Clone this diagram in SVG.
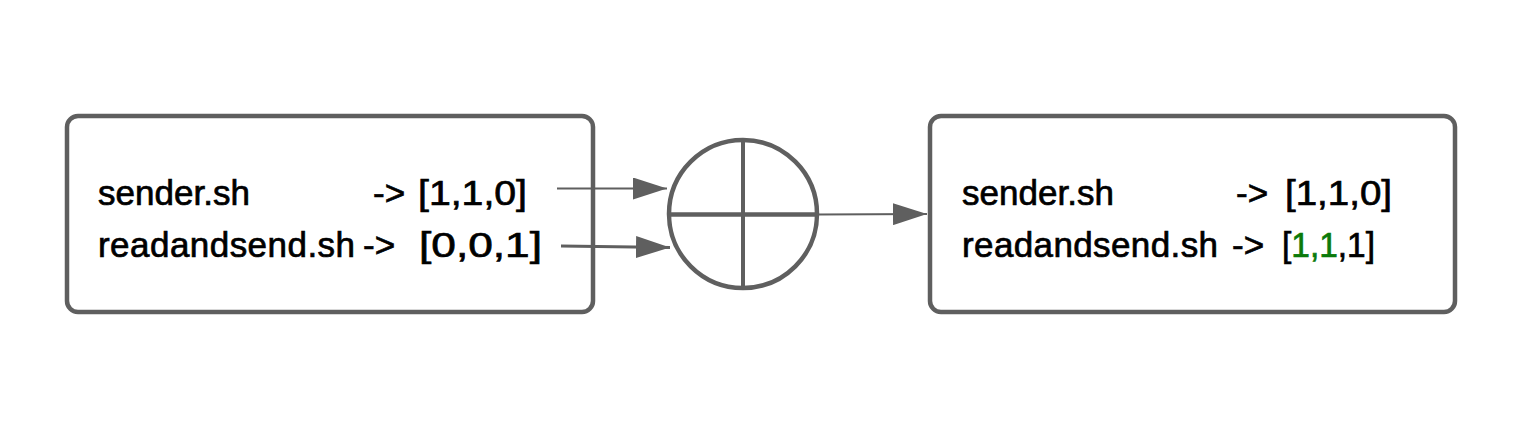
<svg xmlns="http://www.w3.org/2000/svg" width="1523" height="422" viewBox="0 0 1523 422">
<style>
.box{fill:#fff;stroke:#5f5f5f;stroke-width:4.5}
.t{font-family:"Liberation Sans",Arial,sans-serif;font-size:35px;fill:#000;stroke:#000;stroke-width:0.7}
.g{fill:#0a7a0a;stroke:#0a7a0a}
.ln{stroke:#5f5f5f;fill:none}
</style>
<defs>
<marker id="ah" viewBox="0 0 34 22" refX="34" refY="11" markerWidth="34" markerHeight="22" markerUnits="userSpaceOnUse" orient="auto">
<path d="M0,0 L34,11 L0,22 Z" fill="#5f5f5f"/>
</marker>
</defs>
<rect width="1523" height="422" fill="#fff"/>
<g id="left">
<rect class="box" x="67" y="116" width="526" height="196" rx="11"/>
<text class="t" x="98" y="205" textLength="152">sender.sh</text>
<text class="t" x="373" y="205">-&gt;</text>
<text class="t" x="418" y="205" textLength="109" lengthAdjust="spacingAndGlyphs">[1,1,0]</text>
<text class="t" x="98" y="257" textLength="257">readandsend.sh</text>
<text class="t" x="363" y="257">-&gt;</text>
<text class="t" x="419" y="257" textLength="123" lengthAdjust="spacingAndGlyphs">[0,0,1]</text>
</g>
<g id="xor">
<circle cx="743" cy="214" r="74" fill="#fff" stroke="#5f5f5f" stroke-width="4.5"/>
<line class="ln" x1="743" y1="140" x2="743" y2="288" stroke-width="4"/>
<line class="ln" x1="669" y1="214.5" x2="817" y2="214.5" stroke-width="4.5"/>
</g>
<g id="right">
<rect class="box" x="930" y="116" width="525" height="196" rx="11"/>
<text class="t" x="962" y="205" textLength="152">sender.sh</text>
<text class="t" x="1236" y="205">-&gt;</text>
<text class="t" x="1285" y="205" textLength="107" lengthAdjust="spacingAndGlyphs">[1,1,0]</text>
<text class="t" x="962" y="257" textLength="256">readandsend.sh</text>
<text class="t" x="1232" y="257">-&gt;</text>
<text class="t" x="1282" y="257" textLength="93" lengthAdjust="spacingAndGlyphs">[<tspan class="g">1,1</tspan>,1]</text>
</g>
<g id="connectors">
<line class="ln" x1="557" y1="188.5" x2="667" y2="188.5" stroke-width="2.2" marker-end="url(#ah)"/>
<line class="ln" x1="561" y1="246" x2="670" y2="247.5" stroke-width="3.2" marker-end="url(#ah)"/>
<line class="ln" x1="818" y1="214.5" x2="927" y2="214" stroke-width="2.2" marker-end="url(#ah)"/>
</g>
</svg>
